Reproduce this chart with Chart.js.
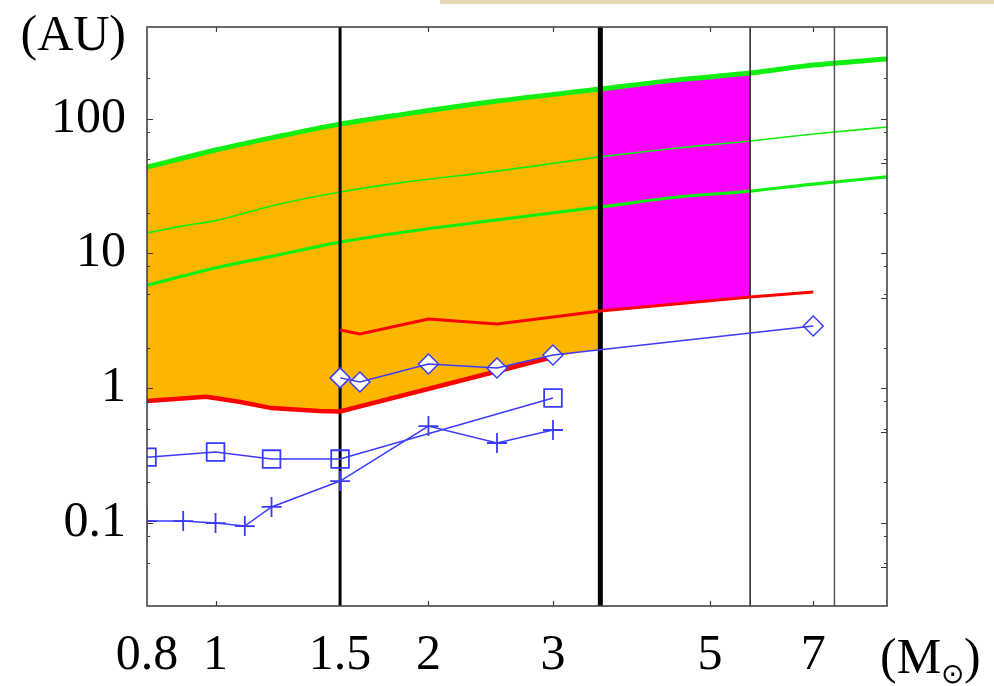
<!DOCTYPE html>
<html><head><meta charset="utf-8">
<script src="https://cdn.jsdelivr.net/npm/chart.js@4.4.0/dist/chart.umd.min.js"></script>
<style>
html,body{margin:0;padding:0;background:#fff;}
#wrap{position:relative;width:994px;height:686px;}
#strip{position:absolute;left:440px;top:0;width:554px;height:4px;background:#e2d8b6;}
</style></head><body>
<div id="wrap"><canvas id="c" width="994" height="686"></canvas><div id="strip"></div></div>
<script>
// ---- data (mass in solar masses, distance in AU) ----
const massGrid    = [0.8, 0.9, 1.0, 1.2, 1.5, 1.85, 2.5, 3.5, 4.5, 5.7, 7.0, 8.9];
const greenOuter  = [43.7, 51, 58.5, 72, 91, 108, 135, 166, 194, 218, 250, 277];
const greenMiddle = [14.2, 16, 17.5, 22.5, 28.5, 33.8, 40.8, 52, 60.6, 68.2, 76.9, 86.6];
const greenInner  = [5.8, 6.8, 7.8, 9.5, 12.1, 14.4, 17.7, 22.1, 26.2, 29.0, 32.7, 36.9];

const redLowMass  = [0.8, 0.97, 1.08, 1.2, 1.4, 1.5, 3.0];
const redLow      = [0.80, 0.86, 0.79, 0.71, 0.675, 0.67, 1.70];
const orangeFloorMass = [0.8, 0.97, 1.08, 1.2, 1.4, 1.5, 3.0, 3.5];
const orangeFloor     = [0.80, 0.86, 0.79, 0.71, 0.675, 0.67, 1.70, 1.95];

const redHighMass = [1.5, 1.6, 2.0, 2.5, 3.0, 3.5, 5.7, 7.0];
const redHigh     = [2.70, 2.52, 3.25, 2.99, 3.37, 3.73, 4.74, 5.16];

const diamondMass = [1.5, 1.6, 2.0, 2.5, 3.0, 7.0];
const diamondVal  = [1.19, 1.11, 1.51, 1.41, 1.76, 2.89];
const squareMass  = [0.8, 1.0, 1.2, 1.5, 3.0];
const squareVal   = [0.307, 0.335, 0.297, 0.297, 0.843];
const plusMass    = [0.8, 0.9, 1.0, 1.1, 1.2, 1.5, 2.0, 2.5, 3.0];
const plusVal     = [0.103, 0.103, 0.0995, 0.0945, 0.131, 0.204, 0.522, 0.391, 0.488];

const dividerMass  = [1.5, 3.5, 5.7, 7.5];
const dividerWidth = [3, 5, 1.5, 1.5];
const dividerColor = ['#000000', '#000000', '#222222', '#555555'];

const orangeUpTo = 3.5;
const magentaFrom = 3.5, magentaTo = 5.7;

const xMin = 0.8, xMax = 8.9;
const yMin = 0.0241, yMax = 479;

const xLabelTicks = [0.8, 1, 1.5, 2, 3, 5, 7];
const yLabelTicks = [100, 10, 1, 0.1];
const xTickMarks  = [1, 2, 3, 5, 7];
const yMajorMarks = [100, 10, 1, 0.1];
const yMinorMarks = [200, 80, 50, 20, 8, 5, 2, 0.8, 0.5, 0.2, 0.08, 0.05];
const yRightExtraMarks = [46.8, 4.7, 0.47, 0.047];

// ---- helpers ----
const pts = (xs, ys) => xs.map((m, i) => ({x: m, y: ys[i]}));
const ptsRange = (xs, ys, lo, hi) => pts(xs, ys).filter(p => p.x >= lo && p.x <= hi);

const BLUE = '#3b3bff';
const GREEN = '#11ee11';
const SERIF = "'Liberation Serif', 'Times New Roman', serif";

const datasets = [];
// 0: orange fill top (source)
datasets.push({data: ptsRange(massGrid, greenOuter, xMin, orangeUpTo), borderWidth: 0, pointRadius: 0,
  backgroundColor: '#fdb600', fill: 1, cubicInterpolationMode: 'monotone', order: 20});
// 1: orange floor (target)
datasets.push({data: pts(orangeFloorMass, orangeFloor), borderWidth: 0, pointRadius: 0, fill: false, order: 21});
// 2: magenta fill top (source) -> target dataset 3 (red high)
datasets.push({data: ptsRange(massGrid, greenOuter, magentaFrom, magentaTo), borderWidth: 0, pointRadius: 0,
  backgroundColor: '#ff00ff', fill: 3, cubicInterpolationMode: 'monotone', order: 22});
// 3: red high line
datasets.push({data: pts(redHighMass, redHigh), borderColor: '#ff0000', borderWidth: 3, pointRadius: 0, fill: false, order: 8});
// 4: red low line
datasets.push({data: pts(redLowMass, redLow), borderColor: '#ff0000', borderWidth: 4.5, pointRadius: 0, fill: false, order: 8});
// green lines
datasets.push({data: pts(massGrid, greenOuter), borderColor: GREEN, borderWidth: 5, pointRadius: 0, fill: false, cubicInterpolationMode: 'monotone', order: 12});
datasets.push({data: pts(massGrid, greenMiddle), borderColor: GREEN, borderWidth: 1.6, pointRadius: 0, fill: false, cubicInterpolationMode: 'monotone', order: 12});
datasets.push({data: pts(massGrid, greenInner), borderColor: GREEN, borderWidth: 3.2, pointRadius: 0, fill: false, cubicInterpolationMode: 'monotone', order: 12});
// vertical divider lines
dividerMass.forEach((m, i) => {
  datasets.push({data: [{x: m, y: yMin}, {x: m, y: yMax}], borderColor: dividerColor[i], borderWidth: dividerWidth[i],
    pointRadius: 0, fill: false, order: 10});
});
// blue markers (white filled) then lines on top
datasets.push({data: pts(diamondMass, diamondVal), showLine: false, pointStyle: 'rectRot', pointRadius: 10,
  pointBorderWidth: 1.5, pointBorderColor: BLUE, pointBackgroundColor: '#ffffff', order: 3, clip: 0});
datasets.push({data: pts(squareMass, squareVal), showLine: false, pointStyle: 'rect', pointRadius: 12.5,
  pointBorderWidth: 1.8, pointBorderColor: BLUE, pointBackgroundColor: 'rgba(255,255,255,0)', order: 3, clip: 0});
datasets.push({data: pts(plusMass, plusVal), showLine: false, pointStyle: 'cross', pointRadius: 10,
  pointBorderWidth: 1.8, pointBorderColor: BLUE, order: 3, clip: 0});
datasets.push({data: pts(diamondMass, diamondVal), borderColor: BLUE, borderWidth: 1.5, pointRadius: 0, fill: false, order: 1});
datasets.push({data: pts(squareMass, squareVal), borderColor: BLUE, borderWidth: 1.5, pointRadius: 0, fill: false, order: 1});
datasets.push({data: pts(plusMass, plusVal), borderColor: BLUE, borderWidth: 1.5, pointRadius: 0, fill: false, order: 1});

const framePlugin = {
  id: 'frameTicks',
  afterDatasetsDraw(chart) {
    const {ctx, chartArea: a, scales: {x, y}} = chart;
    ctx.save();
    ctx.strokeStyle = '#3a3a3a';
    ctx.lineWidth = 1.2;
    ctx.beginPath();
    xTickMarks.forEach(v => {
      const px = Math.round(x.getPixelForValue(v)) + 0.5;
      ctx.moveTo(px, a.bottom); ctx.lineTo(px, a.bottom - 5);
      ctx.moveTo(px, a.top); ctx.lineTo(px, a.top + 5);
    });
    yMajorMarks.forEach(v => {
      const py = Math.round(y.getPixelForValue(v)) + 0.5;
      ctx.moveTo(a.left, py); ctx.lineTo(a.left + 6, py);
      ctx.moveTo(a.right, py); ctx.lineTo(a.right - 6, py);
    });
    yMinorMarks.forEach(v => {
      const py = Math.round(y.getPixelForValue(v)) + 0.5;
      ctx.moveTo(a.left, py); ctx.lineTo(a.left + 3, py);
      ctx.moveTo(a.right, py); ctx.lineTo(a.right - 3, py);
    });
    yRightExtraMarks.forEach(v => {
      const py = Math.round(y.getPixelForValue(v)) + 0.5;
      ctx.moveTo(a.right, py); ctx.lineTo(a.right - 6, py);
    });
    ctx.stroke();
    ctx.lineWidth = 1.6;
    ctx.strokeStyle = '#444';
    ctx.strokeRect(a.left, a.top, a.right - a.left, a.bottom - a.top);
    ctx.restore();
  },
  afterDraw(chart) {
    const {ctx} = chart;
    ctx.save();
    ctx.fillStyle = '#000';
    ctx.textBaseline = 'alphabetic';
    ctx.font = '50px ' + SERIF;
    ctx.textAlign = 'right';
    ctx.fillText('(AU)', 126, 50);
    ctx.textAlign = 'left';
    let xx = 880;
    const base = 673;
    ctx.fillText('(M', xx, base);
    xx += ctx.measureText('(M').width;
    ctx.font = '28px ' + SERIF;
    ctx.fillText('\u2299', xx, base + 10);
    xx += ctx.measureText('\u2299').width;
    ctx.font = '50px ' + SERIF;
    ctx.fillText(')', xx, base);
    ctx.restore();
  }
};

new Chart(document.getElementById('c'), {
  type: 'line',
  data: {datasets},
  options: {
    responsive: false,
    animation: false,
    layout: {padding: {top: 27, right: 107, left: 0, bottom: 0}},
    plugins: {legend: {display: false}, tooltip: {enabled: false}, filler: {drawTime: 'beforeDatasetsDraw'}},
    elements: {line: {tension: 0}},
    scales: {
      x: {
        type: 'logarithmic', min: xMin, max: xMax,
        grid: {display: false, drawTicks: false}, border: {display: false},
        afterBuildTicks: s => { s.ticks = xLabelTicks.map(v => ({value: v})); },
        afterFit: s => { s.height = 80; s.paddingLeft = 0; s.paddingRight = 0; },
        ticks: {autoSkip: false, maxRotation: 0, minRotation: 0, padding: 20, color: '#000',
          font: {family: SERIF, size: 50},
          callback: v => String(v)}
      },
      y: {
        type: 'logarithmic', min: yMin, max: yMax,
        grid: {display: false, drawTicks: false}, border: {display: false},
        afterBuildTicks: s => { s.ticks = yLabelTicks.map(v => ({value: v})); },
        afterFit: s => { s.width = 147; s.paddingTop = 0; s.paddingBottom = 0; },
        ticks: {autoSkip: false, padding: 21, color: '#000',
          font: {family: SERIF, size: 50},
          callback: v => String(v)}
      }
    }
  },
  plugins: [framePlugin]
});
</script>
</body></html>
